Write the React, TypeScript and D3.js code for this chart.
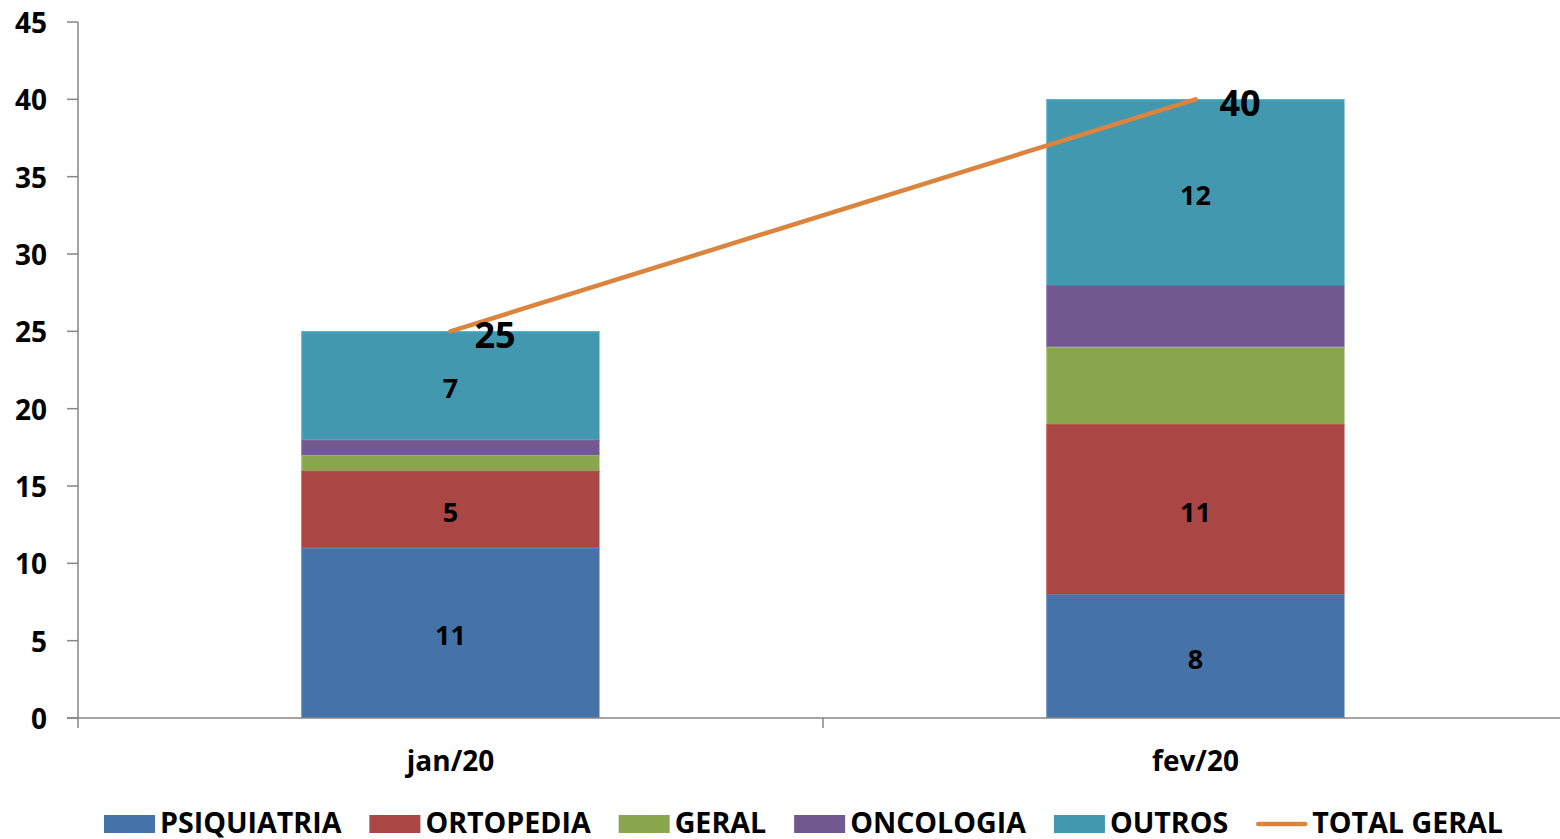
import React, { useEffect, useRef } from "react";
import * as d3 from "d3";

const categories = ["jan/20", "fev/20"];
const seriesNames = ["PSIQUIATRIA", "ORTOPEDIA", "GERAL", "ONCOLOGIA", "OUTROS"];
const psiquiatria = [11, 8];
const ortopedia = [5, 11];
const geral = [1, 5];
const oncologia = [1, 4];
const outros = [7, 12];
const totalGeral = [25, 40];
const totalName = "TOTAL GERAL";
const labeledSeries = ["PSIQUIATRIA", "ORTOPEDIA", "OUTROS"];
const yTicks = [0, 5, 10, 15, 20, 25, 30, 35, 40, 45];

const colors = ["#4572A7", "#AA4643", "#89A54E", "#71588F", "#4198AF"];
const lineColor = "#DB843D";
const FONT = "'Open Sans', 'Noto Sans', sans-serif";

export default function App() {
  const ref = useRef<SVGSVGElement>(null);

  useEffect(() => {
    const svg = d3.select(ref.current);
    svg.selectAll("*").remove();
    const W = 1560;
    const left = 78, right = 1568, top = 22, bottom = 718;

    const x = d3.scaleBand<string>().domain(categories).range([left, right]).paddingInner(0).paddingOuter(0);
    const y = d3.scaleLinear().domain([0, 45]).range([bottom, top]);
    const barW = x.bandwidth() * 0.4;

    const values = [psiquiatria, ortopedia, geral, oncologia, outros];
    const rows = categories.map((c, i) => {
      const r: any = { cat: c };
      seriesNames.forEach((s, j) => (r[s] = values[j][i]));
      return r;
    });
    const stack = d3.stack<any>().keys(seriesNames)(rows);

    // bars
    stack.forEach((layer, j) => {
      const g = svg.append("g");
      const edge = d3.color(colors[j])!.brighter(0.4).toString();
      layer.forEach((d: any) => {
        const cx = x(d.data.cat)! + x.bandwidth() / 2;
        const y0 = y(d[0]), y1 = y(d[1]);
        g.append("rect")
          .attr("x", cx - barW / 2)
          .attr("y", y1)
          .attr("width", barW)
          .attr("height", y0 - y1)
          .attr("fill", colors[j]);
        g.append("line")
          .attr("x1", cx - barW / 2).attr("x2", cx + barW / 2)
          .attr("y1", y1 + 0.5).attr("y2", y1 + 0.5)
          .attr("stroke", edge).attr("stroke-width", 1);
        g.append("line")
          .attr("x1", cx - barW / 2 + 0.5).attr("x2", cx - barW / 2 + 0.5)
          .attr("y1", y1).attr("y2", y0)
          .attr("stroke", edge).attr("stroke-width", 1);
      });
    });

    // axes
    const axisColor = "#868686";
    svg.append("line").attr("x1", left).attr("x2", left).attr("y1", top).attr("y2", bottom + 10)
      .attr("stroke", axisColor).attr("stroke-width", 1.5);
    svg.append("line").attr("x1", left - 11).attr("x2", W).attr("y1", bottom).attr("y2", bottom)
      .attr("stroke", axisColor).attr("stroke-width", 1.5);
    yTicks.forEach((t) => {
      svg.append("line").attr("x1", left - 11).attr("x2", left).attr("y1", y(t)).attr("y2", y(t))
        .attr("stroke", axisColor).attr("stroke-width", 1.5);
      svg.append("text").attr("x", 47).attr("y", y(t)).attr("text-anchor", "end")
        .attr("dominant-baseline", "central")
        .attr("font-family", FONT).attr("font-weight", 700).attr("font-size", 28)
        .attr("fill", "#000").text(String(t));
    });
    categories.forEach((c, i) => {
      if (i > 0) {
        svg.append("line").attr("x1", x(c)!).attr("x2", x(c)!).attr("y1", bottom).attr("y2", bottom + 10)
          .attr("stroke", axisColor).attr("stroke-width", 1.5);
      }
      svg.append("text").attr("x", x(c)! + x.bandwidth() / 2).attr("y", 771)
        .attr("text-anchor", "middle")
        .attr("font-family", FONT).attr("font-weight", 700).attr("font-size", 28)
        .attr("fill", "#000").text(c);
    });

    // data labels
    stack.forEach((layer, j) => {
      if (!labeledSeries.includes(seriesNames[j])) return;
      layer.forEach((d: any) => {
        const cx = x(d.data.cat)! + x.bandwidth() / 2;
        svg.append("text").attr("x", cx).attr("y", (y(d[0]) + y(d[1])) / 2 + 2)
          .attr("text-anchor", "middle").attr("dominant-baseline", "central")
          .attr("font-family", FONT).attr("font-weight", 700).attr("font-size", 27)
          .attr("fill", "#000").text(String(d[1] - d[0]));
      });
    });

    // total line
    const pts = categories.map((c, i) => [x(c)! + x.bandwidth() / 2, y(totalGeral[i])] as [number, number]);
    svg.append("path").attr("d", d3.line()(pts)!).attr("fill", "none")
      .attr("stroke", lineColor).attr("stroke-width", 4.5).attr("stroke-linecap", "round");
    pts.forEach((p, i) => {
      svg.append("text").attr("x", p[0] + 24).attr("y", p[1] + 3)
        .attr("dominant-baseline", "central")
        .attr("font-family", FONT).attr("font-weight", 700).attr("font-size", 36)
        .attr("fill", "#000").text(String(totalGeral[i]));
    });

    // legend
    let lx = 104;
    const ly = 824;
    const items = [...seriesNames.map((s, j) => ({ name: s, color: colors[j], line: false })),
      { name: totalName, color: lineColor, line: true }];
    items.forEach((it) => {
      if (it.line) {
        svg.append("line").attr("x1", lx + 2).attr("x2", lx + 49).attr("y1", ly).attr("y2", ly)
          .attr("stroke", it.color).attr("stroke-width", 4.5).attr("stroke-linecap", "round");
      } else {
        svg.append("rect").attr("x", lx).attr("y", ly - 9).attr("width", 51).attr("height", 18)
          .attr("fill", it.color);
      }
      const t = svg.append("text").attr("x", lx + 56).attr("y", 833)
        .attr("font-family", FONT).attr("font-weight", 700).attr("font-size", 28.6)
        .attr("fill", "#000").text(it.name);
      const w = (t.node() as SVGTextElement).getComputedTextLength();
      lx = lx + 56 + w + 28;
    });
  }, []);

  return (
    <svg
      ref={ref}
      width={1560}
      height={839}
      style={{ display: "block", position: "fixed", left: 0, top: 0, background: "#fff" }}
    />
  );
}
